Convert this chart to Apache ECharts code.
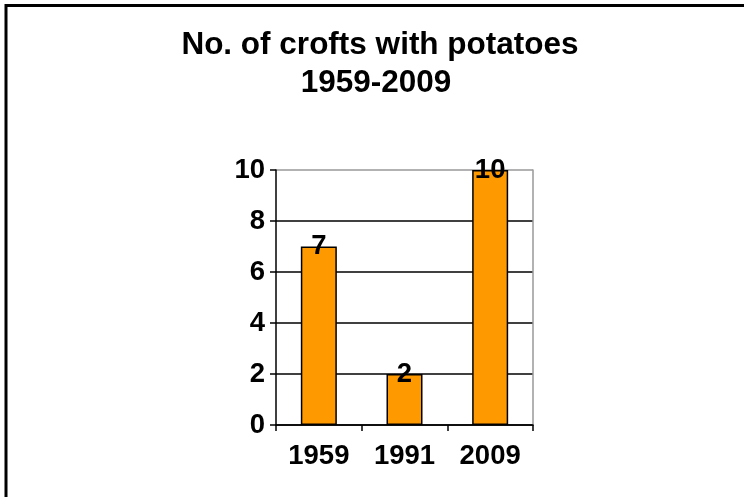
<!DOCTYPE html>
<html>
<head>
<meta charset="utf-8">
<script src="https://cdn.jsdelivr.net/npm/echarts@6/dist/echarts.min.js"></script>
<style>html,body{margin:0;padding:0;background:#fff;}#c{width:744px;height:497px;}</style>
</head>
<body>
<div id="c"></div>
<script>
const categories = ['1959', '1991', '2009'];
const crofts = [7, 2, 10];
const yTicks = [0, 2, 4, 6, 8, 10];
const titleLines = ['No. of crofts with potatoes', '1959-2009'];

const chart = echarts.init(document.getElementById('c'), null, {renderer: 'canvas'});
const fontFamily = '"Liberation Sans", Arial, sans-serif';
chart.setOption({
  animation: false,
  backgroundColor: '#fff',
  grid: {left: 276, right: 211, top: 170, bottom: 72},
  xAxis: {
    type: 'category',
    data: categories,
    boundaryGap: true,
    axisLine: {show: true, lineStyle: {color: '#000', width: 1.5}},
    axisTick: {show: true, inside: false, length: 6, alignWithLabel: false, lineStyle: {color: '#000', width: 1.5}},
    axisLabel: {margin: 17, fontFamily, fontWeight: 'bold', fontSize: 27.5, color: '#000'},
    splitLine: {show: false}
  },
  yAxis: [{
    type: 'value',
    min: yTicks[0],
    max: yTicks[yTicks.length - 1],
    interval: 2,
    axisLine: {show: true, lineStyle: {color: '#000', width: 1.5}},
    axisTick: {show: true, inside: false, length: 6, lineStyle: {color: '#000', width: 1.5}},
    axisLabel: {margin: 11, fontFamily, fontWeight: 'bold', fontSize: 27.5, color: '#000'},
    splitLine: {show: true, lineStyle: {color: ['#000', '#000', '#000', '#000', '#000', '#999'], width: 1.5}}
  }, {
    type: 'value',
    position: 'right',
    min: yTicks[0],
    max: yTicks[yTicks.length - 1],
    interval: 2,
    axisLine: {show: true, lineStyle: {color: '#999', width: 1.5}},
    axisTick: {show: false},
    axisLabel: {show: false},
    splitLine: {show: false}
  }],
  series: [{
    type: 'bar',
    data: crofts,
    barWidth: 36,
    itemStyle: {color: '#FF9900', borderColor: '#000', borderWidth: 1.5},
    label: {
      show: true,
      position: ['50%', 0],
      align: 'center',
      verticalAlign: 'middle',
      fontFamily, fontWeight: 'bold', fontSize: 27.5, color: '#000'
    }
  }],
  graphic: [{
    type: 'rect',
    shape: {x: 6, y: 5.5, width: 900, height: 700},
    style: {fill: 'none', stroke: '#000', lineWidth: 3},
    silent: true
  }, {
    type: 'text',
    x: 380, y: 45,
    style: {text: titleLines[0], fill: '#000', fontFamily, fontWeight: 'bold', fontSize: 31.5, align: 'center', verticalAlign: 'middle'},
    silent: true
  }, {
    type: 'text',
    x: 376, y: 83,
    style: {text: titleLines[1], fill: '#000', fontFamily, fontWeight: 'bold', fontSize: 31.5, align: 'center', verticalAlign: 'middle'},
    silent: true
  }]
});
</script>
</body>
</html>
